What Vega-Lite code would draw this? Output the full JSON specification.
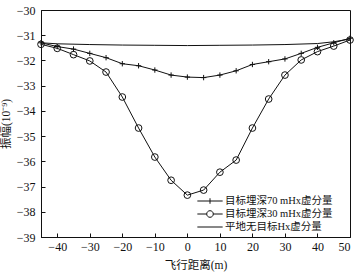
{
  "$schema": "https://vega.github.io/schema/vega-lite/v6.json",
  "width": 309,
  "height": 227,
  "autosize": {"type": "none"},
  "padding": {"left": 41, "top": 10, "right": 13, "bottom": 36},
  "background": "white",
  "config": {
    "view": {"stroke": "#111", "strokeWidth": 1},
    "font": "Liberation Serif, Noto Sans CJK SC",
    "axis": {
      "grid": false,
      "domainColor": "#111",
      "tickColor": "#111",
      "labelColor": "#111",
      "titleColor": "#111",
      "labelFont": "Liberation Serif",
      "labelFontSize": 12,
      "titleFont": "Liberation Serif, Noto Sans CJK SC",
      "titleFontSize": 11.5,
      "titleFontWeight": "normal",
      "tickSize": -4
    }
  },
  "data": {
    "values": [
      {"x": -45, "s": "目标埋深70 mHx虚分量", "y": -31.3},
      {"x": -40, "s": "目标埋深70 mHx虚分量", "y": -31.45},
      {"x": -35, "s": "目标埋深70 mHx虚分量", "y": -31.55},
      {"x": -30, "s": "目标埋深70 mHx虚分量", "y": -31.72},
      {"x": -25, "s": "目标埋深70 mHx虚分量", "y": -31.89},
      {"x": -20, "s": "目标埋深70 mHx虚分量", "y": -32.13},
      {"x": -15, "s": "目标埋深70 mHx虚分量", "y": -32.21},
      {"x": -10, "s": "目标埋深70 mHx虚分量", "y": -32.38},
      {"x": -5, "s": "目标埋深70 mHx虚分量", "y": -32.58},
      {"x": 0, "s": "目标埋深70 mHx虚分量", "y": -32.66},
      {"x": 5, "s": "目标埋深70 mHx虚分量", "y": -32.68},
      {"x": 10, "s": "目标埋深70 mHx虚分量", "y": -32.58},
      {"x": 15, "s": "目标埋深70 mHx虚分量", "y": -32.41},
      {"x": 20, "s": "目标埋深70 mHx虚分量", "y": -32.16},
      {"x": 25, "s": "目标埋深70 mHx虚分量", "y": -32.05},
      {"x": 30, "s": "目标埋深70 mHx虚分量", "y": -31.94},
      {"x": 35, "s": "目标埋深70 mHx虚分量", "y": -31.72},
      {"x": 40, "s": "目标埋深70 mHx虚分量", "y": -31.48},
      {"x": 45, "s": "目标埋深70 mHx虚分量", "y": -31.3},
      {"x": 50, "s": "目标埋深70 mHx虚分量", "y": -31.12},
      {"x": -45, "s": "目标埋深30 mHx虚分量", "y": -31.36},
      {"x": -40, "s": "目标埋深30 mHx虚分量", "y": -31.52},
      {"x": -35, "s": "目标埋深30 mHx虚分量", "y": -31.77},
      {"x": -30, "s": "目标埋深30 mHx虚分量", "y": -32.02},
      {"x": -25, "s": "目标埋深30 mHx虚分量", "y": -32.46},
      {"x": -20, "s": "目标埋深30 mHx虚分量", "y": -33.45},
      {"x": -15, "s": "目标埋深30 mHx虚分量", "y": -34.68},
      {"x": -10, "s": "目标埋深30 mHx虚分量", "y": -35.83},
      {"x": -5, "s": "目标埋深30 mHx虚分量", "y": -36.75},
      {"x": 0, "s": "目标埋深30 mHx虚分量", "y": -37.34},
      {"x": 5, "s": "目标埋深30 mHx虚分量", "y": -37.14},
      {"x": 10, "s": "目标埋深30 mHx虚分量", "y": -36.43},
      {"x": 15, "s": "目标埋深30 mHx虚分量", "y": -35.95},
      {"x": 20, "s": "目标埋深30 mHx虚分量", "y": -34.68},
      {"x": 25, "s": "目标埋深30 mHx虚分量", "y": -33.53},
      {"x": 30, "s": "目标埋深30 mHx虚分量", "y": -32.58},
      {"x": 35, "s": "目标埋深30 mHx虚分量", "y": -31.98},
      {"x": 40, "s": "目标埋深30 mHx虚分量", "y": -31.65},
      {"x": 45, "s": "目标埋深30 mHx虚分量", "y": -31.43},
      {"x": 50, "s": "目标埋深30 mHx虚分量", "y": -31.19},
      {"x": -45, "s": "平地无目标Hx虚分量", "y": -31.3},
      {"x": -40, "s": "平地无目标Hx虚分量", "y": -31.34},
      {"x": -30, "s": "平地无目标Hx虚分量", "y": -31.37},
      {"x": -20, "s": "平地无目标Hx虚分量", "y": -31.39},
      {"x": -10, "s": "平地无目标Hx虚分量", "y": -31.4},
      {"x": 0, "s": "平地无目标Hx虚分量", "y": -31.41},
      {"x": 10, "s": "平地无目标Hx虚分量", "y": -31.4},
      {"x": 20, "s": "平地无目标Hx虚分量", "y": -31.39},
      {"x": 30, "s": "平地无目标Hx虚分量", "y": -31.37},
      {"x": 40, "s": "平地无目标Hx虚分量", "y": -31.33},
      {"x": 45, "s": "平地无目标Hx虚分量", "y": -31.26},
      {"x": 50, "s": "平地无目标Hx虚分量", "y": -31.15}
    ]
  },
  "encoding": {
    "x": {
      "field": "x", "type": "quantitative",
      "scale": {"domain": [-45, 50], "nice": false, "zero": false},
      "axis": {"values": [-40, -30, -20, -10, 0, 10, 20, 30, 40, 50], "title": "飞行距离(m)", "labelPadding": 8, "titlePadding": 7}
    },
    "y": {
      "field": "y", "type": "quantitative",
      "scale": {"domain": [-39, -30], "nice": false, "zero": false},
      "axis": {"values": [-39, -38, -37, -36, -35, -34, -33, -32, -31, -30], "title": "振幅(10⁻⁹)", "labelPadding": 10, "titlePadding": 5}
    }
  },
  "layer": [
    {
      "mark": {"type": "line", "color": "#111", "strokeWidth": 1},
      "encoding": {"detail": {"field": "s"}}
    },
    {
      "transform": [{"filter": "datum.s !== '平地无目标Hx虚分量'"}],
      "mark": {"type": "point", "filled": false, "stroke": "#111", "strokeWidth": 1, "size": 45, "opacity": 1},
      "encoding": {
        "shape": {
          "field": "s", "type": "nominal",
          "scale": {
            "domain": ["目标埋深70 mHx虚分量", "目标埋深30 mHx虚分量"],
            "range": ["M-0.8,0H0.8M0,-0.8V0.8", "circle"]
          },
          "legend": null
        }
      }
    },
    {
      "mark": {"type": "point", "filled": false, "stroke": "#111", "opacity": 0, "size": 121},
      "encoding": {
        "shape": {
          "field": "s", "type": "nominal",
          "scale": {
            "domain": ["目标埋深70 mHx虚分量", "目标埋深30 mHx虚分量", "平地无目标Hx虚分量"],
            "range": [
              "M-2.3,0H2.3M0,-0.5V0.5",
              "M-2.3,0H-0.6M0.6,0H2.3M-0.6,0A0.6,0.6 0 1,0 0.6,0A0.6,0.6 0 1,0 -0.6,0",
              "M-2.3,0H2.3"
            ]
          },
          "legend": {
            "title": null,
            "orient": "none",
            "legendX": 163,
            "legendY": 185,
            "symbolOpacity": 1,
            "symbolStrokeColor": "#111",
            "symbolFillColor": "transparent",
            "symbolStrokeWidth": 1,
            "symbolSize": 121,
            "labelOffset": 9,
            "labelFont": "Liberation Serif, Noto Sans CJK SC",
            "labelFontSize": 10.5,
            "labelColor": "#111",
            "rowPadding": 1,
            "labelLimit": 300
          }
        }
      }
    }
  ],
  "resolve": {"scale": {"shape": "independent"}, "legend": {"shape": "independent"}}
}
